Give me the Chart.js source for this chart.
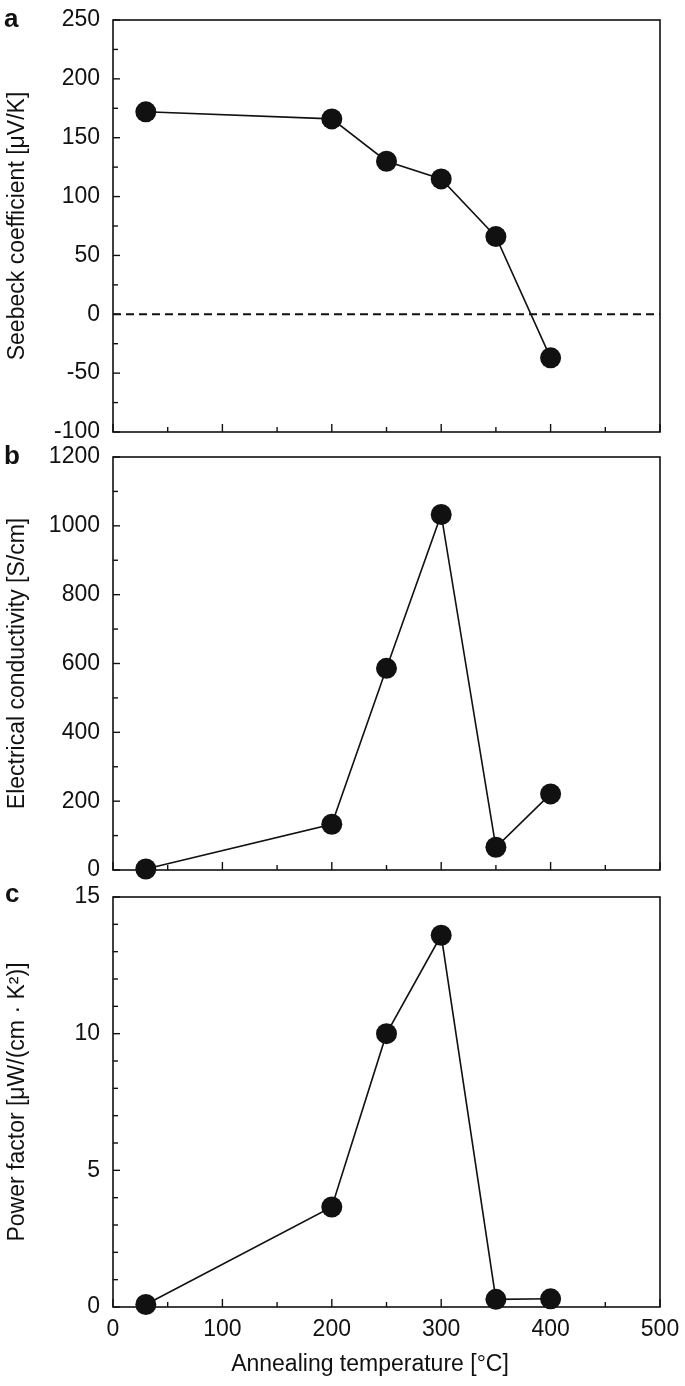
<!DOCTYPE html>
<html><head><meta charset="utf-8">
<script src="https://cdn.jsdelivr.net/npm/chart.js@4.4.1/dist/chart.umd.min.js"></script>
<style>
html,body{margin:0;padding:0;background:#fff;}
body{width:685px;height:1386px;position:relative;overflow:hidden;font-family:"Liberation Sans",Arial,sans-serif;}
canvas{position:absolute;left:0;}
.lbl{position:absolute;font-weight:bold;font-size:26px;color:#111;line-height:1;font-family:"Liberation Sans",Arial,sans-serif;}
</style></head><body>
<canvas id="ca" width="685" height="445" style="top:0px"></canvas>
<canvas id="cb" width="685" height="440" style="top:445px"></canvas>
<canvas id="cc" width="685" height="501" style="top:885px"></canvas>
<div class="lbl" style="left:4px;top:5px">a</div>
<div class="lbl" style="left:4px;top:442px">b</div>
<div class="lbl" style="left:5px;top:880px">c</div>
<script>
// ---- data ----
const temps = [30, 200, 250, 300, 350, 400];
const seebeck = [172, 166, 130, 115, 66, -37];
const conductivity = [3, 133, 586, 1033, 66, 221];
const powerFactor = [0.09, 3.66, 10.0, 13.6, 0.28, 0.3];
const zeroLine = [0, 0];
const zeroLineX = [0, 500];

// ---- ticks ----
const xTickLabels = [0, 100, 200, 300, 400, 500];
const xMinorStep = 50;
const seebeckTickLabels = [-100, -50, 0, 50, 100, 150, 200, 250];
const seebeckMinorStep = 25;
const condTickLabels = [0, 200, 400, 600, 800, 1000, 1200];
const condMinorStep = 100;
const pfTickLabels = [0, 5, 10, 15];
const pfMinorStep = 1;
const xTitle = 'Annealing temperature [°C]';

const INK = '#111';
const FONT = "'Liberation Sans', Arial, sans-serif";
const FS = 23;

function buildTicks(labels, step) {
  const lo = labels[0], hi = labels[labels.length - 1];
  const out = [];
  for (let v = lo; v <= hi + 1e-9; v += step) out.push({value: Math.round(v * 1000) / 1000});
  return out;
}

const framePlugin = {
  id: 'frame',
  beforeDatasetsDraw(chart) {
    const {ctx, chartArea: a, scales} = chart;
    ctx.save();
    ctx.strokeStyle = INK;
    ctx.lineWidth = 1.6;
    ctx.strokeRect(a.left, a.top, a.right - a.left, a.bottom - a.top);
    ctx.lineWidth = 1.4;
    const y = scales.y, x = scales.x;
    const yl = chart.options.plugins.frame.yLabels;
    y.ticks.forEach(t => {
      const p = y.getPixelForValue(t.value);
      const len = yl.includes(t.value) ? 7 : 5;
      ctx.beginPath(); ctx.moveTo(a.left, p); ctx.lineTo(a.left + len, p); ctx.stroke();
    });
    x.ticks.forEach(t => {
      const p = x.getPixelForValue(t.value);
      const len = xTickLabels.includes(t.value) ? 8 : 5;
      ctx.beginPath(); ctx.moveTo(p, a.bottom); ctx.lineTo(p, a.bottom - len); ctx.stroke();
    });
    ctx.restore();
  },
  afterDraw(chart) {
    const o = chart.options.plugins.frame;
    if (!o.xTitle) return;
    const ctx = chart.ctx;
    ctx.save();
    ctx.fillStyle = INK;
    ctx.font = FS + 'px ' + FONT;
    ctx.textAlign = 'center';
    ctx.textBaseline = 'middle';
    ctx.fillText(o.xTitle, 370, chart.height - 21);
    ctx.restore();
  }
};

function makeChart(id, values, yLabels, yStep, yTitle, opts) {
  const datasets = [{
    data: temps.map((t, i) => ({x: t, y: values[i]})),
    borderColor: INK, backgroundColor: INK,
    borderWidth: 1.6, pointRadius: 10.5, pointHoverRadius: 10.5,
    pointBackgroundColor: INK, pointBorderColor: INK, pointBorderWidth: 0,
    clip: false, order: 1
  }];
  if (opts.dashed) {
    datasets.push({
      data: zeroLineX.map((t, i) => ({x: t, y: zeroLine[i]})),
      borderColor: INK, borderWidth: 2, borderDash: [8, 5], pointRadius: 0, clip: false, order: 2
    });
  }
  return new Chart(document.getElementById(id), {
    type: 'line',
    data: {datasets},
    plugins: [framePlugin],
    options: {
      responsive: false, animation: false, devicePixelRatio: 1,
      layout: {padding: {top: opts.padTop, right: 25, bottom: 0, left: 0}},
      plugins: {legend: {display: false}, tooltip: {enabled: false},
                frame: {yLabels, xTitle: opts.showX ? xTitle : null}},
      scales: {
        x: {
          type: 'linear', min: 0, max: 500,
          afterBuildTicks(s) { s.ticks = buildTicks(xTickLabels, xMinorStep); },
          afterFit(s) { s.height = opts.xHeight; s.paddingLeft = 0; s.paddingRight = 0; },
          grid: {display: false, drawTicks: false},
          border: {display: false},
          ticks: {
            display: opts.showX, autoSkip: false, maxRotation: 0, color: INK, padding: 9,
            font: {family: FONT, size: FS},
            callback: v => xTickLabels.includes(v) ? String(v) : ''
          },
          title: {display: false}
        },
        y: {
          type: 'linear', min: yLabels[0], max: yLabels[yLabels.length - 1],
          afterBuildTicks(s) { s.ticks = buildTicks(yLabels, yStep); },
          afterFit(s) { s.width = 113; s.paddingTop = 0; s.paddingBottom = 0; },
          grid: {display: false, drawTicks: false},
          border: {display: false},
          ticks: {
            autoSkip: false, color: INK, padding: 13,
            font: {family: FONT, size: FS},
            callback: v => yLabels.includes(v) ? String(v) : ''
          },
          title: {display: true, text: yTitle, color: INK,
                  font: {family: FONT, size: FS}, padding: {top: 4, bottom: 0}}
        }
      }
    }
  });
}

makeChart('ca', seebeck, seebeckTickLabels, seebeckMinorStep, 'Seebeck coefficient [μV/K]',
  {padTop: 20, xHeight: 13, showX: false, dashed: true});
makeChart('cb', conductivity, condTickLabels, condMinorStep, 'Electrical conductivity [S/cm]',
  {padTop: 12, xHeight: 15, showX: false, dashed: false});
makeChart('cc', powerFactor, pfTickLabels, pfMinorStep, 'Power factor [μW/(cm · K²)]',
  {padTop: 12, xHeight: 79, showX: true, dashed: false});
</script>
</body></html>
